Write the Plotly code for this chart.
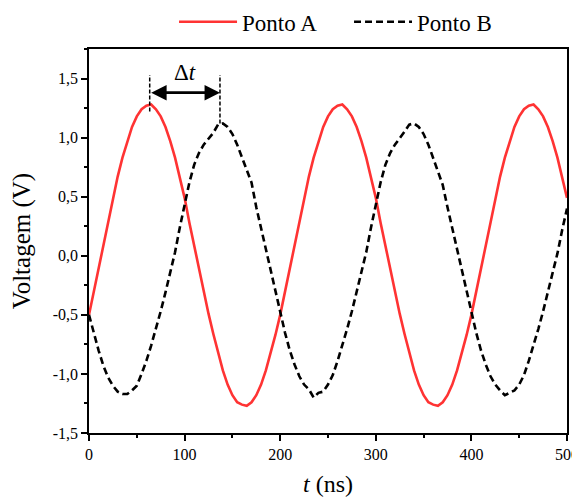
import plotly.graph_objects as go

# time grid (ns), sampled every 5 ns
t_ns = list(range(0, 505, 5))

# Ponto A (red, V)
ponto_a = [
    -0.50, -0.30, -0.10, 0.10, 0.30, 0.49, 0.67, 0.83, 0.97, 1.09,
    1.18, 1.24, 1.27, 1.28, 1.24, 1.18, 1.09, 0.97, 0.83, 0.67,
    0.49, 0.28, 0.08, -0.12, -0.30, -0.49, -0.66, -0.82, -0.97, -1.09,
    -1.18, -1.24, -1.26, -1.27, -1.24, -1.18, -1.09, -0.97, -0.83, -0.67,
    -0.50, -0.30, -0.10, 0.10, 0.30, 0.49, 0.67, 0.83, 0.97, 1.09,
    1.18, 1.24, 1.27, 1.28, 1.24, 1.18, 1.09, 0.97, 0.83, 0.67,
    0.49, 0.28, 0.08, -0.12, -0.30, -0.49, -0.66, -0.82, -0.97, -1.09,
    -1.18, -1.24, -1.26, -1.27, -1.24, -1.18, -1.09, -0.97, -0.83, -0.67,
    -0.50, -0.30, -0.10, 0.10, 0.30, 0.49, 0.67, 0.83, 0.97, 1.09,
    1.18, 1.24, 1.27, 1.28, 1.24, 1.18, 1.09, 0.97, 0.83, 0.67,
    0.49,
]

# Ponto B (black dashed, V)
ponto_b = [
    -0.50, -0.66, -0.80, -0.93, -1.03, -1.10, -1.15, -1.17, -1.17, -1.14,
    -1.10, -1.00, -0.89, -0.76, -0.62, -0.47, -0.31, -0.13, 0.03, 0.24,
    0.44, 0.62, 0.77, 0.87, 0.94, 0.99, 1.04, 1.11, 1.12, 1.09,
    1.03, 0.94, 0.83, 0.72, 0.62, 0.41, 0.23, 0.05, -0.13, -0.31,
    -0.48, -0.65, -0.80, -0.92, -1.02, -1.09, -1.13, -1.20, -1.16, -1.15,
    -1.09, -1.01, -0.89, -0.76, -0.62, -0.47, -0.31, -0.13, 0.03, 0.24,
    0.44, 0.62, 0.77, 0.87, 0.94, 0.99, 1.05, 1.11, 1.12, 1.09,
    1.03, 0.94, 0.83, 0.72, 0.60, 0.41, 0.23, 0.05, -0.13, -0.31,
    -0.48, -0.65, -0.80, -0.92, -1.02, -1.09, -1.14, -1.18, -1.16, -1.14,
    -1.09, -1.01, -0.89, -0.76, -0.62, -0.47, -0.31, -0.14, 0.02, 0.22,
    0.40,
]

# Delta-t marker times (ns): peak of A, peak of B
delta_t_marks = [63.5, 137.0]
delta_t_arrow_v = 1.38
delta_t_top_v = 1.53
delta_t_bottom_v = [1.22, 1.12]

y_tickvals = [-1.5, -1.0, -0.5, 0.0, 0.5, 1.0, 1.5]
y_ticktext = ["-1,5", "-1,0", "-0,5", "0,0", "0,5", "1,0", "1,5"]
x_tickvals = [0, 100, 200, 300, 400, 500]
x_ticktext = ["0", "100", "200", "300", "400", "500"]

FONT = "Liberation Serif"

fig = go.Figure()
fig.add_trace(go.Scatter(
    x=t_ns, y=ponto_a, mode="lines", name="Ponto A",
    line=dict(color="#FF3333", width=2.6),
))
fig.add_trace(go.Scatter(
    x=t_ns, y=ponto_b, mode="lines", name="Ponto B",
    line=dict(color="black", width=2.6, dash="7px,4px"),
))

for xm, yb in zip(delta_t_marks, delta_t_bottom_v):
    fig.add_shape(type="line", xref="x", yref="y",
                  x0=xm, x1=xm, y0=yb, y1=delta_t_top_v,
                  line=dict(color="black", width=1.5, dash="4px,2px"))

fig.add_annotation(
    x=delta_t_marks[1], y=delta_t_arrow_v, ax=delta_t_marks[0], ay=delta_t_arrow_v,
    xref="x", yref="y", axref="x", ayref="y", text="",
    showarrow=True, arrowhead=2, arrowside="end+start", arrowsize=1.1,
    arrowwidth=2.8, arrowcolor="black", standoff=0, startstandoff=0,
)
fig.add_annotation(
    x=sum(delta_t_marks) / 2, y=1.555, xref="x", yref="y",
    text="Δ<i>t</i>", showarrow=False,
    font=dict(family=FONT, size=23, color="black"),
)

axis_common = dict(
    showline=True, linecolor="black", linewidth=1.5, mirror=True,
    ticks="outside", ticklen=6, tickwidth=1.5, tickcolor="black",
    showgrid=False, zeroline=False,
    tickfont=dict(family=FONT, size=16, color="black"),
)

fig.update_xaxes(
    range=[0, 500], tickmode="array", tickvals=x_tickvals, ticktext=x_ticktext,
    minor=dict(ticks="outside", ticklen=3.5, tickwidth=1.5, tickcolor="black",
               tickmode="linear", tick0=0, dtick=50, showgrid=False),
    title=dict(text="<i>t</i> (ns)", font=dict(family=FONT, size=24, color="black"),
               standoff=13),
    **axis_common,
)
fig.update_yaxes(
    range=[-1.5, 1.75], tickmode="array", tickvals=y_tickvals, ticktext=y_ticktext,
    minor=dict(ticks="outside", ticklen=3.5, tickwidth=1.5, tickcolor="black",
               tickmode="linear", tick0=0, dtick=0.25, showgrid=False),
    title=dict(text="Voltagem (V)", font=dict(family=FONT, size=25, color="black"),
               standoff=15),
    **axis_common,
)

# the page body adds an 8 px margin, so the figure is sized to fit the window
fig.update_layout(
    width=572, height=490,
    margin=dict(l=81, r=13, t=41, b=65, autoexpand=False),
    paper_bgcolor="white", plot_bgcolor="white",
    font=dict(family=FONT, color="black"),
    showlegend=True,
    legend=dict(
        orientation="h", x=0.544, xanchor="center", y=1.071, yanchor="middle",
        font=dict(family=FONT, size=23, color="black"),
        itemwidth=58, entrywidth=102, bgcolor="rgba(0,0,0,0)", tracegroupgap=0,
    ),
)

fig.write_html("out.html")
